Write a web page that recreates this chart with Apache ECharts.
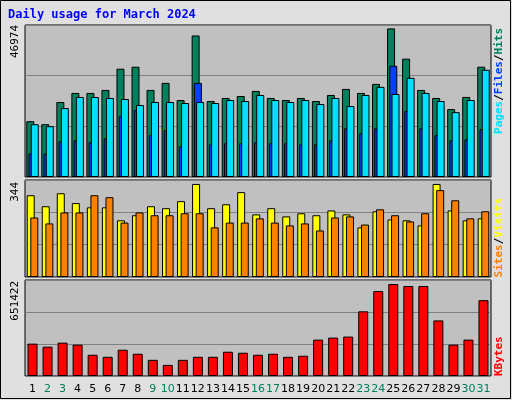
<!DOCTYPE html>
<html><head><meta charset="utf-8">
<script src="https://cdn.jsdelivr.net/npm/echarts@6/dist/echarts.min.js"></script>
<style>html,body{margin:0;padding:0;background:#E0E0E0}#c{width:512px;height:400px}</style>
</head><body><div id="c"></div>
<script>
const days = Array.from({length:31},(_,i)=>String(i+1));
const weekend = ['2','3','9','10','16','17','23','24','30','31'];
const hits = [17250,16310,23170,25980,25980,26910,33460,34080,26910,29090,23790,43740,23480,24420,25040,26600,24420,23790,24420,23480,25350,27220,25980,28780,45920,36570,26910,24420,20990,24730,34080];
const files = [7270,7270,11010,11330,10700,11950,18810,20680,12880,14440,9450,29090,10080,10390,10390,10700,10390,10390,10080,10080,11330,15070,13510,15070,34390,20360,15070,12880,11330,11640,14750];
const pages = [16310,15690,21300,24730,24730,24420,24100,22230,23170,23170,22860,23170,22860,23790,23480,25350,23790,23170,23790,22550,24420,21920,25350,27850,25660,30650,25980,23480,20050,23790,33140];
const visits = [290,251,297,262,247,247,201,219,251,244,269,330,244,258,301,222,244,215,226,219,236,222,176,233,204,201,183,330,236,201,208];
const sites = [211,190,229,229,290,283,193,229,219,219,226,226,176,193,193,208,193,183,190,165,211,215,186,240,219,197,226,308,272,208,233];
const kbytes = [219500,198900,226300,212600,144000,130300,178300,150900,109700,75400,109700,130300,130300,164600,157700,144000,150900,130300,137200,246900,260600,267500,438900,576100,624100,610400,610400,377200,212600,246900,514400];
const maxHits = 46974, maxVisits = 344, maxKB = 651422;

const chart = echarts.init(document.getElementById('c'));
const gridBase = {left:25,right:21,show:true,backgroundColor:'#C0C0C0',borderColor:'#000',borderWidth:1};
function yAx(i,max){return {gridIndex:i,min:0,max:max,interval:max/3,axisLabel:{show:false},axisTick:{show:false},axisLine:{show:false},splitLine:{lineStyle:{color:'#808080',width:1}}};}
function xAx(i,show){return {type:'category',gridIndex:i,data:days,axisTick:{show:false},axisLine:{show:false},
  axisLabel:{show:show,interval:0,fontFamily:'DejaVu Sans',fontSize:11,margin:8,color:v=>weekend.includes(v)?'#00805C':'#000'}};}
const bs = {borderColor:'#000',borderWidth:1};
chart.setOption({
  animation:false,
  backgroundColor:'#E0E0E0',
  grid:[{...gridBase,top:25,height:152},{...gridBase,top:180,height:97},{...gridBase,top:280,height:96}],
  xAxis:[xAx(0,false),xAx(1,false),xAx(2,true)],
  yAxis:[yAx(0,maxHits),yAx(1,maxVisits),yAx(2,maxKB)],
  series:[
    {type:'bar',xAxisIndex:0,yAxisIndex:0,data:hits,barWidth:8,barGap:'-72%',itemStyle:{color:'#00805C',...bs}},
    {type:'bar',xAxisIndex:0,yAxisIndex:0,data:files,barWidth:8,barGap:'-72%',itemStyle:{color:'#0040FF',...bs}},
    {type:'bar',xAxisIndex:0,yAxisIndex:0,data:pages,barWidth:8,barGap:'-72%',itemStyle:{color:'#00E0FF',...bs}},
    {type:'bar',xAxisIndex:1,yAxisIndex:1,data:visits,barWidth:8,barGap:'-55%',itemStyle:{color:'#FFFF00',...bs}},
    {type:'bar',xAxisIndex:1,yAxisIndex:1,data:sites,barWidth:8,barGap:'-55%',itemStyle:{color:'#FF8000',...bs}},
    {type:'bar',xAxisIndex:2,yAxisIndex:2,data:kbytes,barWidth:10,itemStyle:{color:'#FF0000',...bs}}
  ],
  graphic:[
    {type:'rect',shape:{x:0.5,y:0.5,width:510,height:398},style:{fill:'none',stroke:'#000',lineWidth:1},silent:true},
    {type:'text',x:8,y:9,style:{text:'Daily usage for March 2024',fill:'#0000FF',font:'bold 12px "DejaVu Sans Mono"'}},
    {type:'text',x:10,y:25,rotation:Math.PI/2,style:{text:String(maxHits),fill:'#000',font:'11px "DejaVu Sans Mono"',textAlign:'right',textVerticalAlign:'top'}},
    {type:'text',x:10,y:182,rotation:Math.PI/2,style:{text:String(maxVisits),fill:'#000',font:'11px "DejaVu Sans Mono"',textAlign:'right',textVerticalAlign:'top'}},
    {type:'text',x:10,y:281,rotation:Math.PI/2,style:{text:String(maxKB),fill:'#000',font:'11px "DejaVu Sans Mono"',textAlign:'right',textVerticalAlign:'top'}},
    {type:'text',x:494,y:28,rotation:Math.PI/2,style:{rich:{h:{fill:'#00805C'},f:{fill:'#0040FF'},p:{fill:'#00E0FF'},s:{fill:'#000'}},text:'{p|Pages}{s|/}{f|Files}{s|/}{h|Hits}',font:'bold 11px "DejaVu Sans Mono"',textAlign:'right',textVerticalAlign:'top'}},
    {type:'text',x:494,y:198,rotation:Math.PI/2,style:{rich:{v:{fill:'#FFFF00'},t:{fill:'#FF8000'},s:{fill:'#000'}},text:'{t|Sites}{s|/}{v|Visits}',font:'bold 11px "DejaVu Sans Mono"',textAlign:'right',textVerticalAlign:'top'}},
    {type:'text',x:494,y:376,rotation:Math.PI/2,style:{text:'KBytes',fill:'#FF0000',font:'bold 11px "DejaVu Sans Mono"',textAlign:'left',textVerticalAlign:'top'}}
  ]
});
</script></body></html>
